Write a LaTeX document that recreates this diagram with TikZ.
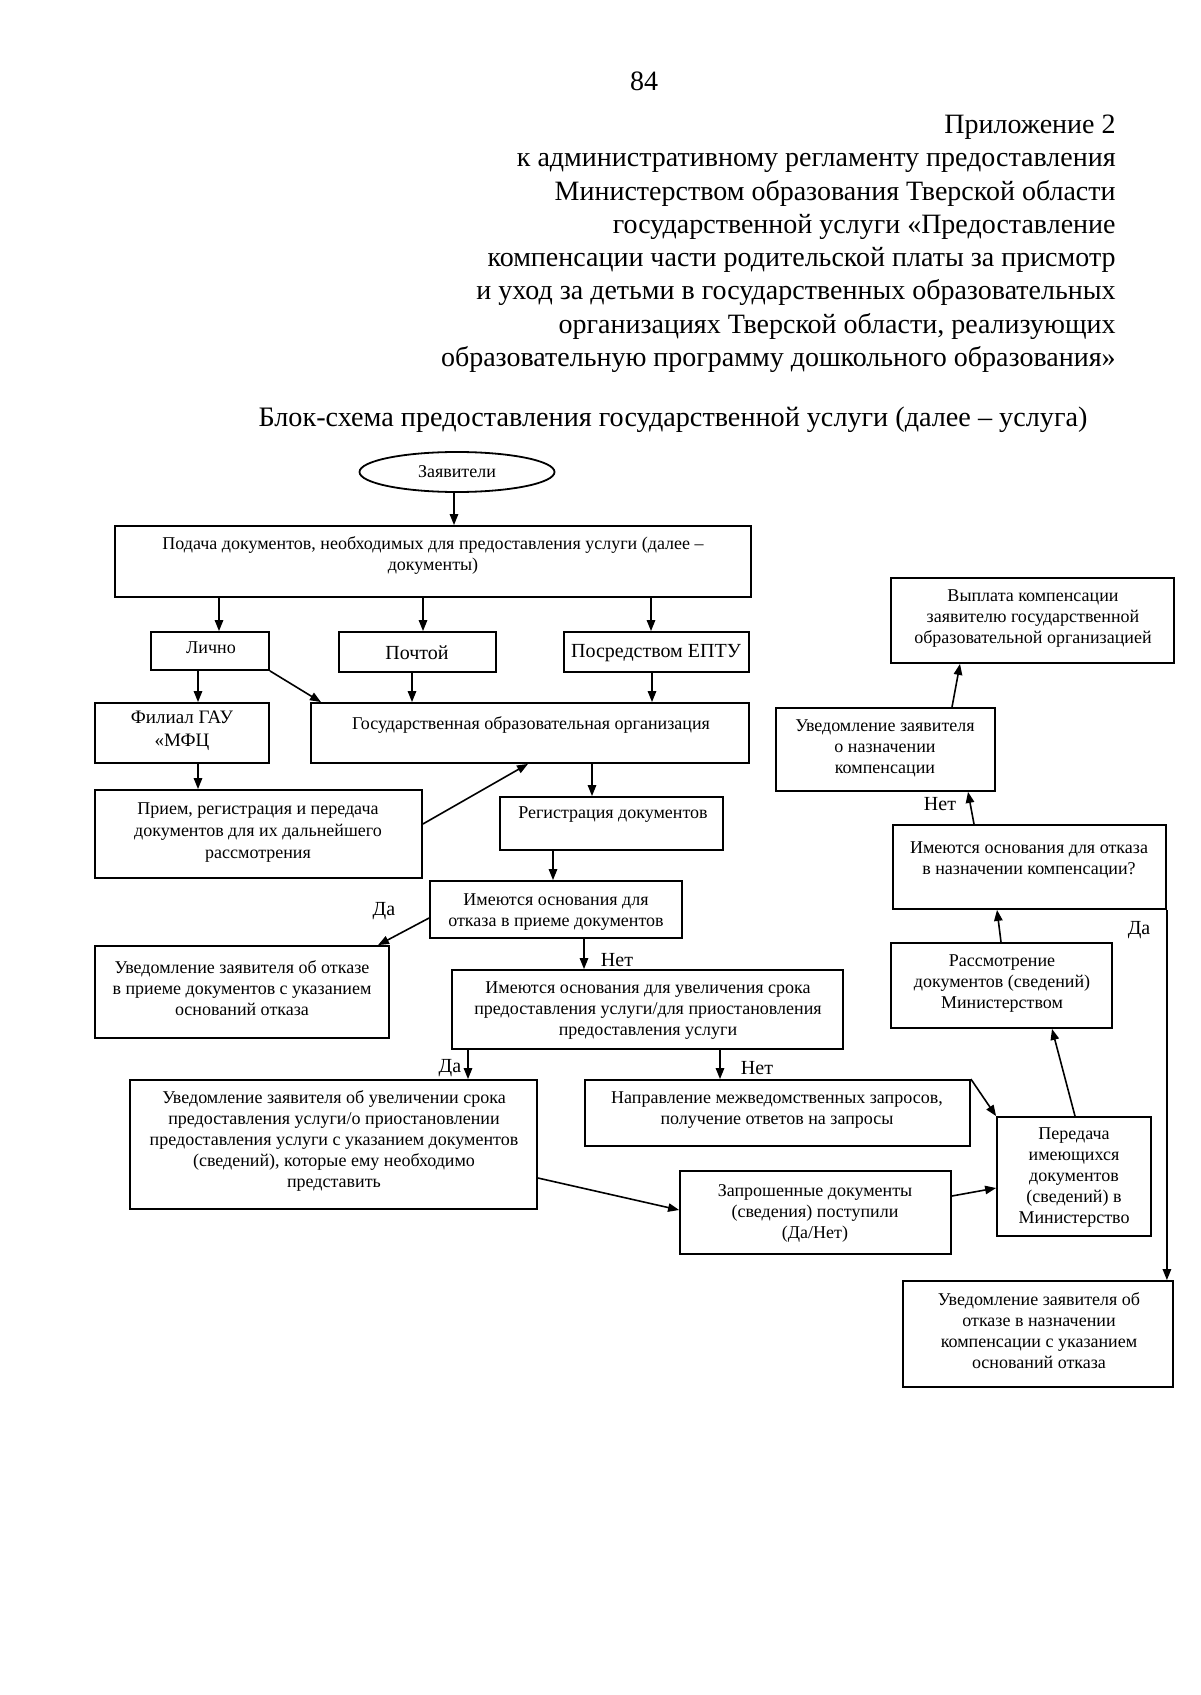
\documentclass[tikz,border=0pt]{standalone}
\usepackage{fontspec}
\setmainfont{Liberation Serif}
\usetikzlibrary{arrows.meta,shapes.geometric,fit}
\begin{document}
\begin{tikzpicture}[x=0.5pt,y=-0.5pt,
  box/.style={draw, line width=0.9pt, inner sep=0pt},
  txt/.style={align=center, font=\fontsize{9}{10.5}\selectfont, inner sep=0pt},
  txtb/.style={align=center, font=\fontsize{10}{12}\selectfont, inner sep=0pt},
  lbl/.style={font=\fontsize{10}{12}\selectfont, inner sep=0pt},
  hdr/.style={font=\fontsize{14}{16.6}\selectfont, inner sep=0pt, anchor=base east},
  arr/.style={-{Triangle[length=5.5pt,width=4.2pt]}, line width=0.8pt},
]
\useasboundingbox[fill=white] (0,0) rectangle (1200,1695);

% header
\node[font=\fontsize{14}{16.6}\selectfont, inner sep=0pt] (pnum) at (644,81) {84};
\node[hdr] (h1) at (1116,133.5) {Приложение 2};
\node[hdr] (h2) at (1116,166.8) {к административному регламенту предоставления};
\node[hdr] (h3) at (1116,200.1) {Министерством образования Тверской области};
\node[hdr] (h4) at (1116,233.4) {государственной услуги «Предоставление};
\node[hdr] (h5) at (1116,266.7) {компенсации части родительской платы за присмотр};
\node[hdr] (h6) at (1116,300.0) {и уход за детьми в государственных образовательных};
\node[hdr] (h7) at (1116,333.3) {организациях Тверской области, реализующих};
\node[hdr] (h8) at (1116,366.6) {образовательную программу дошкольного образования»};
\node[font=\fontsize{14.1}{16.6}\selectfont, inner sep=0pt, anchor=base] (title) at (673,427)
  {Блок-схема предоставления государственной услуги (далее – услуга)};

% boxes
\node[draw, line width=0.9pt, ellipse, minimum width=97.5pt, minimum height=20pt, inner sep=0pt] (zayav) at (457,472) {};
\node[txt] (tzayav) at (457,472) {Заявители};

\node[box, fit={(115,526) (751,597)}] (podacha) {};
\node[txt] (tpodacha) at (433,555) {Подача документов, необходимых для предоставления услуги (далее –\\документы)};

\node[box, fit={(151,632) (269,670)}] (lichno) {};
\node[txt] (tlichno) at (211,648) {Лично};
\node[box, fit={(339,632) (496,672)}] (pochta) {};
\node[txtb] (tpochta) at (417,653) {Почтой};
\node[box, fit={(564,632) (749,672)}] (eptu) {};
\node[txtb] (teptu) at (656,653) {Посредством ЕПТУ};

\node[box, fit={(95,703) (269,763)}] (filial) {};
\node[txt, font=\fontsize{9.5}{11.5}\selectfont] (tfilial) at (182,731) {Филиал ГАУ\\«МФЦ};
\node[box, fit={(311,703) (749,763)}] (goo) {};
\node[txt] (tgoo) at (531,725) {Государственная образовательная организация};

\node[box, fit={(95,790) (422,878)}] (priem) {};
\node[txt, font=\fontsize{9}{11}\selectfont] (tpriem) at (258,833) {Прием, регистрация и передача\\документов для их дальнейшего\\рассмотрения};
\node[box, fit={(500,797) (723,850)}] (reg) {};
\node[txt] (treg) at (613,815) {Регистрация документов};

\node[box, fit={(430,881) (682,938)}] (otkaz1) {};
\node[txt] (totkaz1) at (556,912) {Имеются основания для\\отказа в приеме документов};
\node[box, fit={(95,946) (389,1038)}] (uved1) {};
\node[txt] (tuved1) at (242,988) {Уведомление заявителя об отказе\\в приеме документов с указанием\\оснований отказа};

\node[box, fit={(452,970) (843,1049)}] (srok) {};
\node[txt] (tsrok) at (648,1011) {Имеются основания для увеличения срока\\предоставления услуги/для приостановления\\предоставления услуги};

\node[box, fit={(130,1080) (537,1209)}] (uved2) {};
\node[txt] (tuved2) at (334,1141) {Уведомление заявителя об увеличении срока\\предоставления услуги/о приостановлении\\предоставления услуги с указанием документов\\(сведений), которые ему необходимо\\представить};
\node[box, fit={(585,1080) (970,1146)}] (naprav) {};
\node[txt] (tnaprav) at (777,1110) {Направление межведомственных запросов,\\получение ответов на запросы};
\node[box, fit={(680,1171) (951,1254)}] (zaprosh) {};
\node[txt] (tzaprosh) at (815,1213) {Запрошенные документы\\(сведения) поступили\\(Да/Нет)};
\node[box, fit={(997,1117) (1151,1236)}] (peredacha) {};
\node[txt] (tperedacha) at (1074,1178) {Передача\\имеющихся\\документов\\(сведений) в\\Министерство};

\node[box, fit={(891,943) (1112,1028)}] (rassm) {};
\node[txt] (trassm) at (1002,984) {Рассмотрение\\документов (сведений)\\Министерством};
\node[box, fit={(893,825) (1166,909)}] (otkaz2) {};
\node[txt] (totkaz2) at (1029,860) {Имеются основания для отказа\\в назначении компенсации?};
\node[box, fit={(776,708) (995,791)}] (uvnazn) {};
\node[txt] (tuvnazn) at (885,748) {Уведомление заявителя\\о назначении\\компенсации};
\node[box, fit={(891,578) (1174,663)}] (vyplata) {};
\node[txt] (tvyplata) at (1033,619) {Выплата компенсации\\заявителю государственной\\образовательной организацией};
\node[box, fit={(903,1281) (1173,1387)}] (uvotkaz) {};
\node[txt] (tuvotkaz) at (1039,1331) {Уведомление заявителя об\\отказе в назначении\\компенсации с указанием\\оснований отказа};

% connectors
\draw[arr] (zayav.south -| 454,0) -- (podacha.north -| 454,0);
\draw[arr] (podacha.south -| 219,0) -- (lichno.north -| 219,0);
\draw[arr] (podacha.south -| 423,0) -- (pochta.north -| 423,0);
\draw[arr] (podacha.south -| 651,0) -- (eptu.north -| 651,0);
\draw[arr] (lichno.south -| 198,0) -- (filial.north -| 198,0);
\draw[arr] (lichno.south east) -- (goo.north -| 321,0);
\draw[arr] (pochta.south -| 412,0) -- (goo.north -| 412,0);
\draw[arr] (eptu.south -| 652,0) -- (goo.north -| 652,0);
\draw[arr] (filial.south -| 198,0) -- (priem.north -| 198,0);
\draw[arr] (priem.east |- 0,824) -- (goo.south -| 528,0);
\draw[arr] (goo.south -| 592,0) -- (reg.north -| 592,0);
\draw[arr] (reg.south -| 553,0) -- (otkaz1.north -| 553,0);
\draw[arr] (otkaz1.west |- 0,918) -- (uved1.north -| 378,0);
\draw[arr] (otkaz1.south -| 584,0) -- (srok.north -| 584,0);
\draw[arr] (srok.south -| 468,0) -- (uved2.north -| 468,0);
\draw[arr] (srok.south -| 720,0) -- (naprav.north -| 720,0);
\draw[arr] (uved2.east |- 0,1178) -- (zaprosh.west |- 0,1210);
\draw[arr] (zaprosh.east |- 0,1196) -- (peredacha.west |- 0,1188);
\draw[arr] (naprav.north east) -- (peredacha.north west);
\draw[arr] (peredacha.north -| 1075,0) -- (rassm.south -| 1052,0);
\draw[arr] (rassm.north -| 1001,0) -- (otkaz2.south -| 997,0);
\draw[arr] (otkaz2.north -| 974,0) -- (uvnazn.south -| 968,0);
\draw[arr] (uvnazn.north -| 952,0) -- (vyplata.south -| 960,0);
\draw[arr] (otkaz2.south east) -- (otkaz2.south east |- uvotkaz.north);

% labels
\node[lbl] (lda1) at (384,911) {Да};
\node[lbl] (lnet1) at (617,960) {Нет};
\node[lbl] (lda2) at (450,1068) {Да};
\node[lbl] (lnet2) at (757,1068) {Нет};
\node[lbl] (lnet3) at (940,804) {Нет};
\node[lbl] (lda3) at (1139,930) {Да};
\end{tikzpicture}
\end{document}
